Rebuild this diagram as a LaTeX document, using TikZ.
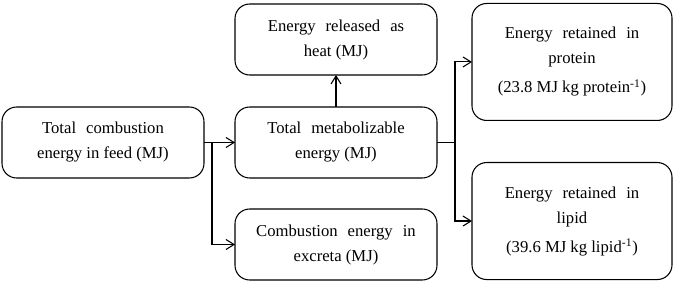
\documentclass[tikz,border=0pt]{standalone}
\usepackage{fontspec}
\setmainfont{Liberation Serif}
\usetikzlibrary{positioning,arrows.meta}

\newcommand{\spreadline}[1]{{\spaceskip=7.5pt #1}}

\begin{document}
\begin{tikzpicture}[
  font=\fontsize{12.5pt}{18.75pt}\selectfont,
  node distance=23.25pt,
  b/.style={draw,rounded corners=11pt,align=center,minimum width=151.5pt,minimum height=53.25pt,inner sep=2pt,outer sep=0pt,line width=0.8pt},
  tall/.style={b,minimum width=150pt,minimum height=87.75pt},
  a/.style={-{Straight Barb[length=6pt,width=7.5pt]},line width=0.8pt},
]
  \useasboundingbox (-252pt,-106.875pt) rectangle (254.25pt,106.875pt);

  \node[b] (me) {\spreadline{Total metabolizable}\\energy (MJ)};
  \node[b,left=of me] (feed) {\spreadline{Total combustion}\\energy in feed (MJ)};
  \node[b,above=24pt of me] (heat) {\spreadline{Energy released as}\\heat (MJ)};
  \node[b,below=of me] (excr) {\spreadline{Combustion energy in}\\excreta (MJ)};
  \node[tall,right=26.25pt of me,yshift=60.4pt] (prot) {\spreadline{Energy retained in}\\protein\\[3pt](23.8 MJ kg protein\textsuperscript{-1})};
  \node[tall,right=26.25pt of me,yshift=-58.9pt] (lip) {\spreadline{Energy retained in}\\lipid\\[3pt](39.6 MJ kg lipid\textsuperscript{-1})};

  \coordinate[right=6pt of feed.east] (split);
  \coordinate[right=13.5pt of me.east] (fork);

  \draw[a] (feed)--(me); \draw[a] (split) |- (excr);
  \draw[a] (me)--(heat);
  \draw[line width=0.8pt] (me)--(fork);
  \draw[a] (fork) |- (prot); \draw[a] (fork) |- (lip);
\end{tikzpicture}
\end{document}
